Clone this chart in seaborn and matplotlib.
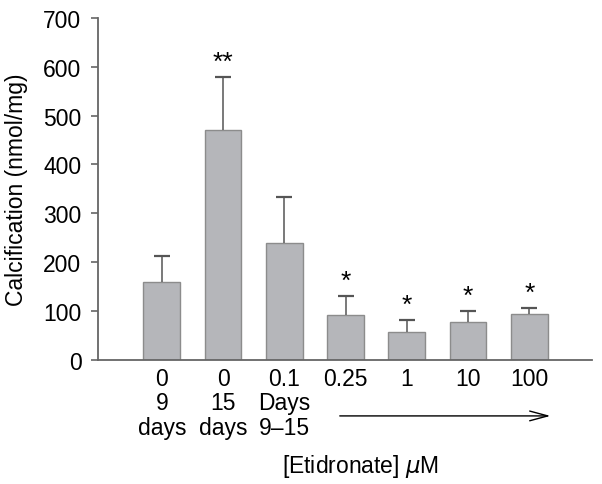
import pandas as pd
import matplotlib
matplotlib.use("Agg")
import matplotlib.pyplot as plt
import seaborn as sns

conc = ["0", "0", "0.1", "0.25", "1", "10", "100"]
sub = ["9\ndays", "15\ndays", "Days\n9\u201315", "", "", "", ""]
calc = [160, 471, 239, 92, 56, 78, 94]
err = [52, 109, 95, 39, 25, 23, 13]
stars = ["", "**", "", "*", "*", "*", "*"]

df = pd.DataFrame({"group": [f"g{i}" for i in range(len(conc))], "calc": calc})

sns.set_style("ticks")
plt.rcParams["font.family"] = ["Liberation Sans", "DejaVu Sans"]
plt.rcParams["text.color"] = "black"
plt.rcParams["axes.labelcolor"] = "black"
plt.rcParams["xtick.color"] = "black"
plt.rcParams["ytick.color"] = "black"

fs = 16.5

fig = plt.figure(figsize=(6.02, 4.85), dpi=100)
ax = fig.add_axes([0.163, 0.256, 0.82, 0.705])

sns.barplot(data=df, x="group", y="calc", color="#b5b6ba", saturation=1,
            width=0.6, edgecolor="#8c8c8c", linewidth=1, errorbar=None, ax=ax)

xs = list(range(len(calc)))
eb = ax.errorbar(xs, calc, yerr=[[0] * len(err), err], fmt="none",
                 ecolor="#555555", elinewidth=1.1, capsize=6, capthick=1.6)
eb[1][0].set_visible(False)

for x, v, e, s in zip(xs, calc, err, stars):
    if s:
        ax.text(x, v + e + 6, s, ha="center", va="bottom", fontsize=19)

ax.set_xlim(-1.04, 7.02)
ax.set_ylim(0, 700)
ax.set_yticks(range(0, 701, 100))
ax.tick_params(axis="y", labelsize=fs, length=5, width=1.2, color="#666666", pad=7)
ax.tick_params(axis="x", length=0, labelsize=fs, pad=5)
ax.set_xticks(xs)
ax.set_xticklabels([c + "\n" + s if s else c for c, s in zip(conc, sub)],
                   linespacing=1.08)
for sp in ["top", "right"]:
    ax.spines[sp].set_visible(False)
for sp in ["left", "bottom"]:
    ax.spines[sp].set_color("#666666")
    ax.spines[sp].set_linewidth(1.3)

ax.set_ylabel("Calcification (nmol/mg)", fontsize=fs)
ax.yaxis.set_label_coords(-0.142, 0.5)
ax.set_xlabel("[Etidronate] $\\mu$M", fontsize=fs)
ax.xaxis.set_label_coords(0.532, -0.27)

ax.annotate("", xy=(6.39, -0.164), xytext=(2.86, -0.164),
            xycoords=ax.get_xaxis_transform(), textcoords=ax.get_xaxis_transform(),
            arrowprops=dict(arrowstyle="->,head_length=1.3,head_width=0.35",
                            color="black", lw=1.0),
            annotation_clip=False)

fig.savefig("out.png", dpi=100)
